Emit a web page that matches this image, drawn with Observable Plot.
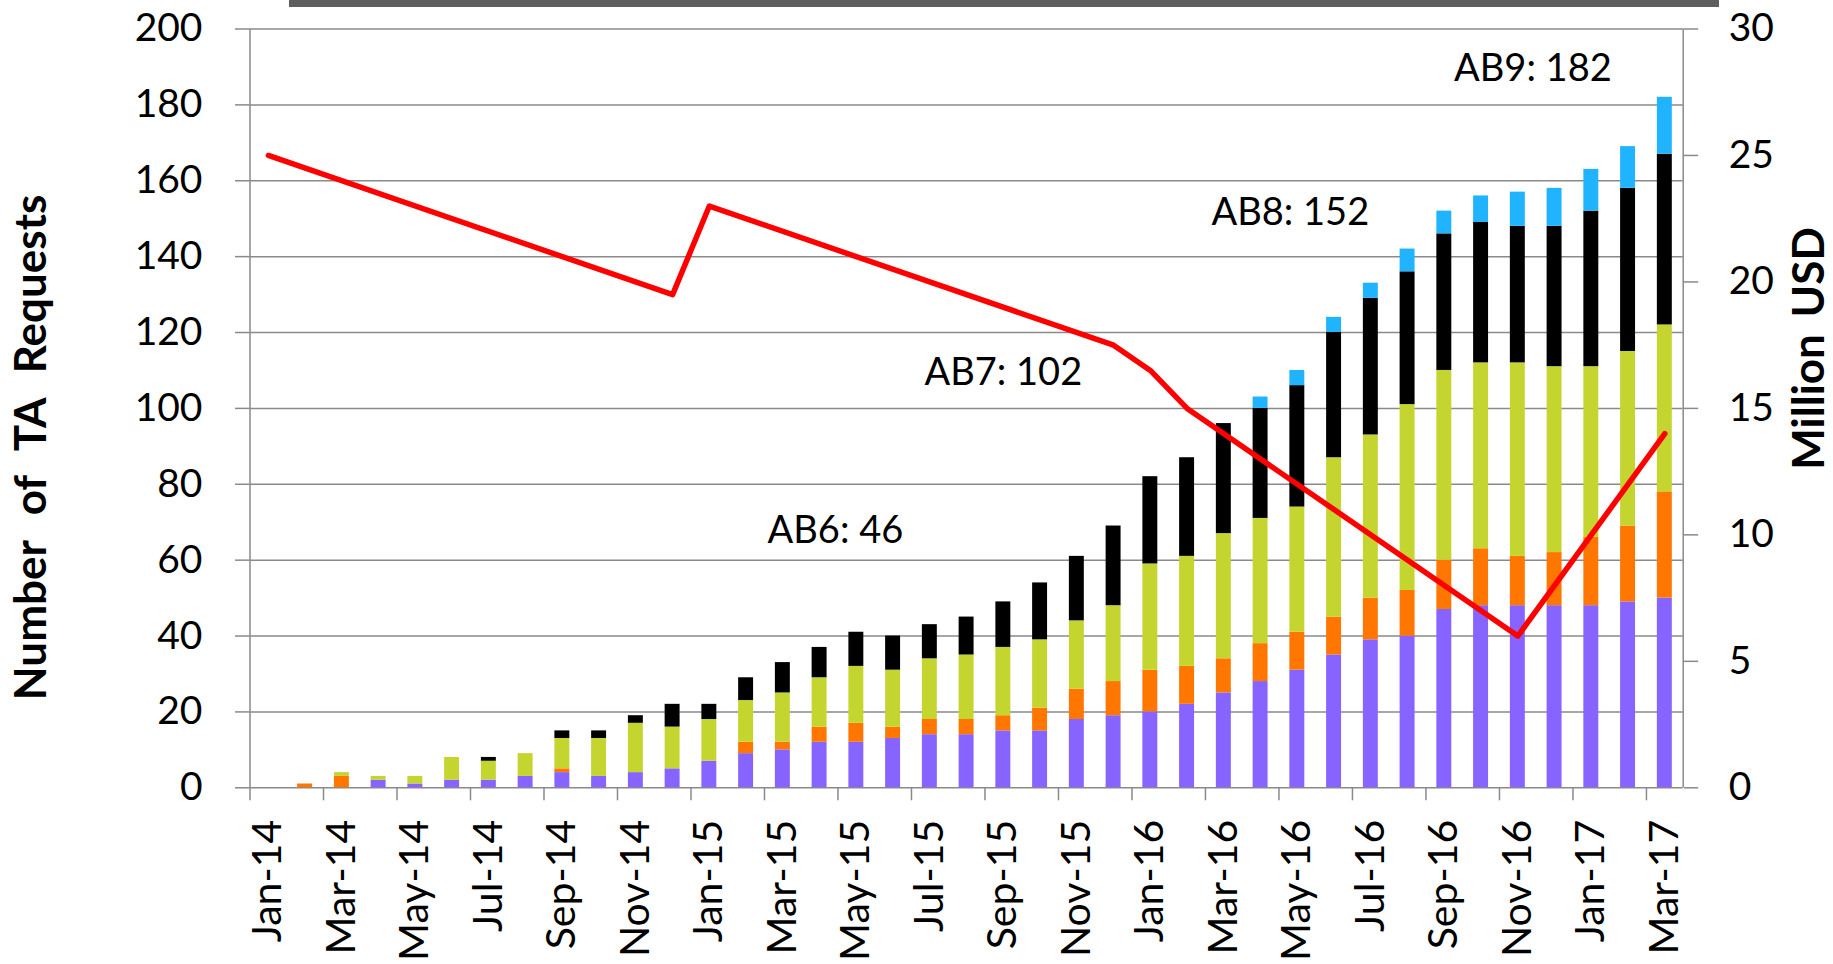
<!DOCTYPE html>
<html><head><meta charset="utf-8">
<script src="https://cdn.jsdelivr.net/npm/d3@7"></script>
<script src="https://cdn.jsdelivr.net/npm/@observablehq/plot@0.6"></script>
<style>
html,body{margin:0;padding:0;background:#fff;}
#wrap{position:relative;width:1833px;height:964px;overflow:hidden;}
#topbar{position:absolute;left:289px;top:0;width:1430px;height:7px;background:#5e5e5e;}
.ltitle text{word-spacing:15px;}
.rtitle text{word-spacing:6px;}
</style></head>
<body><div id="wrap"><div id="chart"></div><div id="topbar"></div></div>
<script>
// ---- data ----
const months = ["Jan-14","Feb-14","Mar-14","Apr-14","May-14","Jun-14","Jul-14","Aug-14","Sep-14","Oct-14","Nov-14","Dec-14",
  "Jan-15","Feb-15","Mar-15","Apr-15","May-15","Jun-15","Jul-15","Aug-15","Sep-15","Oct-15","Nov-15","Dec-15",
  "Jan-16","Feb-16","Mar-16","Apr-16","May-16","Jun-16","Jul-16","Aug-16","Sep-16","Oct-16","Nov-16","Dec-16",
  "Jan-17","Feb-17","Mar-17"];
const seriesNames = ["Series 1","Series 2","Series 3","Series 4","Series 5"];
const seriesColors = ["#8763ff","#ff7600","#c4d52f","#000000","#20b4ff"];
const series1 = [0,0,0,2,1,2,2,3,4,3,4,5, 7,9,10,12,12,13,14,14,15,15,18,19, 20,22,25,28,31,35,39,40,47,48,48,48, 48,49,50];
const series2 = [0,1,3,0,0,0,0,0,1,0,0,0, 0,3,2,4,5,3,4,4,4,6,8,9, 11,10,9,10,10,10,11,12,13,15,13,14, 18,20,28];
const series3 = [0,0,1,1,2,6,5,6,8,10,13,11, 11,11,13,13,15,15,16,17,18,18,18,20, 28,29,33,33,33,42,43,49,50,49,51,49, 45,46,44];
const series4 = [0,0,0,0,0,0,1,0,2,2,2,6, 4,6,8,8,9,9,9,10,12,15,17,21, 23,26,29,29,32,33,36,35,36,37,36,37, 41,43,45];
const series5 = [0,0,0,0,0,0,0,0,0,0,0,0, 0,0,0,0,0,0,0,0,0,0,0,0, 0,0,0,3,4,4,4,6,6,7,9,10, 11,11,15];
// Million USD line (right axis) — vertices of the line
const usdMonths = ["Jan-14","Dec-14","Jan-15","Dec-15","Jan-16","Feb-16","Nov-16","Mar-17"];
const usdValues = [25, 19.5, 23, 17.5, 16.5, 15, 6, 14];
// annotations
const noteLabels = ["AB6: 46","AB7: 102","AB8: 152","AB9: 182"];
const noteX = [15.93, 20.5, 28.31, 34.91];
const noteY = [67.6, 109.3, 151.5, 189.6];
const leftTicks = [0,20,40,60,80,100,120,140,160,180,200];
const rightTicks = [0,5,10,15,20,25,30];
const leftTitle = "Number of TA Requests";
const rightTitle = "Million USD";

// ---- build tables ----
const allSeries = [series1, series2, series3, series4, series5];
const bars = [];
allSeries.forEach((vals, s) => vals.forEach((v, i) => { if (v > 0) bars.push({i, series: seriesNames[s], value: v}); }));
const usd = usdMonths.map((m, k) => ({i: months.indexOf(m), usd: usdValues[k]}));
const notes = noteLabels.map((t, k) => ({t, x: noteX[k], y: noteY[k]}));
const toLeft = v => v * 200 / 30;
const boundaryTicks = d3.range(0, months.length, 2);
const labelTicks = boundaryTicks.map(i => i + 0.5);
const grid = "#8a8a8a";

const chart = Plot.plot({
  width: 1833, height: 964,
  marginLeft: 249.5, marginRight: 150.3, marginTop: 28.5, marginBottom: 176.7,
  style: {fontFamily: "Lato, sans-serif", fontSize: "39px", background: "white", color: "black", overflow: "visible"},
  x: {type: "linear", domain: [0, months.length], axis: null},
  y: {domain: [0, 200], axis: null},
  color: {domain: seriesNames, range: seriesColors},
  marks: [
    Plot.ruleY(leftTicks, {stroke: grid, strokeWidth: 1.5}),
    Plot.ruleX([0, months.length], {stroke: grid, strokeWidth: 1.5}),
    Plot.axisY(leftTicks, {anchor: "left", tickSize: 14.5, tickPadding: 33, stroke: grid, strokeWidth: 1.5, fill: "black", fontSize: 39, label: null}),
    Plot.axisY(rightTicks, {anchor: "right", y: toLeft, tickFormat: d => String(d), tickSize: 14.5, tickPadding: 31, stroke: grid, strokeWidth: 1.5, fill: "black", fontSize: 39, label: null}),
    Plot.axisX(boundaryTicks, {anchor: "bottom", tickSize: 13, tickFormat: () => "", stroke: grid, strokeWidth: 1.5, label: null}),
    Plot.axisX(labelTicks, {anchor: "bottom", tickSize: 0, tickPadding: 32, tickRotate: -90, tickFormat: v => months[Math.floor(v)], fill: "black", fontSize: 41, label: null}),
    Plot.rectY(bars, Plot.stackY({x: "i", interval: 1, y: "value", fill: "series", insetLeft: 10.9, insetRight: 10.9})),
    Plot.line(usd, {x: d => d.i + 0.5, y: d => toLeft(d.usd), stroke: "#ff0000", strokeWidth: 5.5, strokeLinecap: "round", strokeLinejoin: "round"}),
    Plot.text(notes, {x: "x", y: "y", text: "t", fontSize: 38, textAnchor: "middle", fill: "black"}),
    Plot.text([leftTitle], {frameAnchor: "left", dx: -218.5, dy: 39, rotate: -90, fontSize: 44, fontWeight: "bold", fill: "black", textAnchor: "middle", className: "ltitle"}),
    Plot.text([rightTitle], {frameAnchor: "right", dx: 126.3, dy: -60, rotate: -90, fontSize: 44, fontWeight: "bold", fill: "black", textAnchor: "middle", className: "rtitle"})
  ]
});
document.getElementById("chart").appendChild(chart);
</script>
</body></html>
